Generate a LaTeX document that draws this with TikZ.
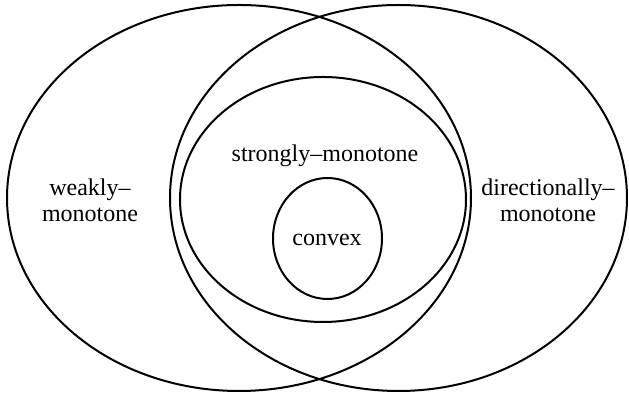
\documentclass[tikz,border=0pt]{standalone}
\usepackage{fontspec}
\setmainfont{Liberation Serif}
\usetikzlibrary{positioning,shapes.geometric}
\tikzset{
  setbox/.style={draw, ellipse, line width=1pt, inner sep=0pt, outer sep=0pt},
  setlabel/.style={align=center, inner sep=1pt, font=\fontsize{12}{13}\selectfont}
}

\begin{document}
\begin{tikzpicture}[x=0.5pt, y=-0.5pt]
  \useasboundingbox (0,0) rectangle (629,394);
  \node[setbox, minimum width=232pt, minimum height=193pt] (weak) at (239,198) {};
  \node[setbox, minimum width=228.5pt, minimum height=193pt] (direc) at (398.5,198) {};
  \node[setbox, minimum width=143pt, minimum height=122.5pt] (strong) at (323,199.5) {};
  \node[setbox, minimum width=54.5pt, minimum height=60.5pt] (convex) at (327.5,238.5) {};
  \node[setlabel] (weaklbl) at (90,200) {weakly--\\monotone};
  \node[setlabel] (direclbl) at (548,200) {directionally--\\monotone};
  \node[setlabel] (stronglbl) at (325,156) {strongly--monotone};
  \node[setlabel] (convexlbl) at (327,240) {convex};
\end{tikzpicture}
\end{document}
